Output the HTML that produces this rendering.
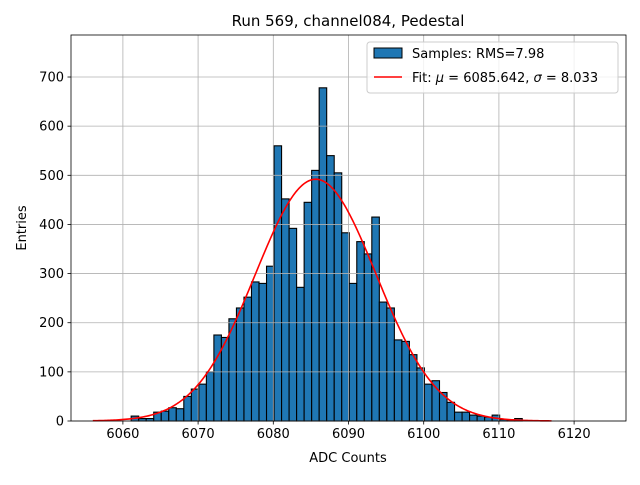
<!DOCTYPE html>
<html><head><meta charset="utf-8"><style>
body{margin:0;background:#fff;font-family:"Liberation Sans","DejaVu Sans",sans-serif}
</style></head><body>
<svg id="chart" width="640" height="480" xmlns="http://www.w3.org/2000/svg" font-family="DejaVu Sans, Liberation Sans, sans-serif">
<rect width="640" height="480" fill="#fff"/>
<g id="bars"></g><g id="grid"></g><g id="fit"></g><g id="axes"></g>
</svg>
<script>
const binStart = 6061.1;
const counts = [10,5,5,18,20,27,25,50,65,75,100,175,170,208,230,252,283,280,315,560,452,392,272,445,510,678,540,505,383,280,365,340,415,242,230,165,162,135,108,75,82,58,38,18,18,12,10,8,12,3,2,5];
const xTicks = [6060,6070,6080,6090,6100,6110,6120];
const yTicks = [0,100,200,300,400,500,600,700];
const fitMu = 6085.642, fitSigma = 8.033, fitPeak = 492;
const fitRange = [6056, 6117];

const L=71,R=626,T=35,B=421;
const xMin=6053.1,xMax=6126.9,yMax=785.5;
const X=v=>L+(v-xMin)/(xMax-xMin)*(R-L);
const Y=v=>B-v/yMax*(B-T);
const NS="http://www.w3.org/2000/svg";
function mk(tag,attrs,parent,text){const e=document.createElementNS(NS,tag);for(const k in attrs)e.setAttribute(k,attrs[k]);if(text!==undefined)e.textContent=text;parent.appendChild(e);return e;}
const grid=document.getElementById('grid'),bars=document.getElementById('bars'),fit=document.getElementById('fit'),axes=document.getElementById('axes');
xTicks.forEach(t=>{
  const g=mk('line',{x1:X(t),x2:X(t),y1:T,y2:B,stroke:'#b0b0b0','stroke-width':0.8},grid);
  
  mk('line',{x1:X(t),x2:X(t),y1:B,y2:B+3.5,stroke:'#000','stroke-width':0.8},axes);
  const tx=mk('text',{x:X(t),y:B+17,'font-size':13,'text-anchor':'middle'},axes,t);
  
});
yTicks.forEach(t=>{
  const g=mk('line',{x1:L,x2:R,y1:Y(t),y2:Y(t),stroke:'#b0b0b0','stroke-width':0.8},grid);
  
  mk('line',{x1:L-3.5,x2:L,y1:Y(t),y2:Y(t),stroke:'#000','stroke-width':0.8},axes);
  const tx=mk('text',{x:L-7,y:Y(t)+4.5,'font-size':13,'text-anchor':'end'},axes,t);
  
});
counts.forEach((c,i)=>{
  const x0=X(binStart+i),x1=X(binStart+i+1);
  const r=mk('rect',{x:x0,y:Y(c),width:x1-x0,height:Y(0)-Y(c),fill:'#1f77b4',stroke:'#000','stroke-width':1.1},bars);
  
});
let d='';
for(let i=0;i<=300;i++){const v=fitRange[0]+(fitRange[1]-fitRange[0])*i/300;const y=fitPeak*Math.exp(-0.5*((v-fitMu)/fitSigma)**2);d+=(i?'L':'M')+X(v).toFixed(2)+','+Y(y).toFixed(2);}
const fp=mk('path',{d:d,fill:'none',stroke:'#ff0000','stroke-width':1.6},fit);

const fr=mk('rect',{x:L,y:T,width:R-L,height:B-T,fill:'none',stroke:'#000','stroke-width':0.8},axes);

</script>
<svg style="position:absolute;left:0;top:0" width="640" height="480" font-family="DejaVu Sans, Liberation Sans, sans-serif">
<text x="348" y="26" font-size="15" text-anchor="middle">Run 569, channel084, Pedestal</text>
<text x="348" y="462" font-size="13" text-anchor="middle">ADC Counts</text>
<text x="26" y="228" font-size="13" text-anchor="middle" transform="rotate(-90 26 228)">Entries</text>
<g>
<rect x="367" y="42" width="251" height="51" rx="3" fill="#fff" fill-opacity="0.8" stroke="#ccc"/>
<rect x="374" y="48" width="28" height="10" fill="#1f77b4" stroke="#000"/>
<text x="412" y="58" font-size="13">Samples: RMS=7.98</text>
<line x1="374" y1="77" x2="402" y2="77" stroke="#ff0000" stroke-width="1.6"/>
<text x="412" y="82" font-size="13">Fit: <tspan font-style="italic">μ</tspan> = 6085.642, <tspan font-style="italic">σ</tspan> = 8.033</text>
</g>
</svg>
</body></html>
